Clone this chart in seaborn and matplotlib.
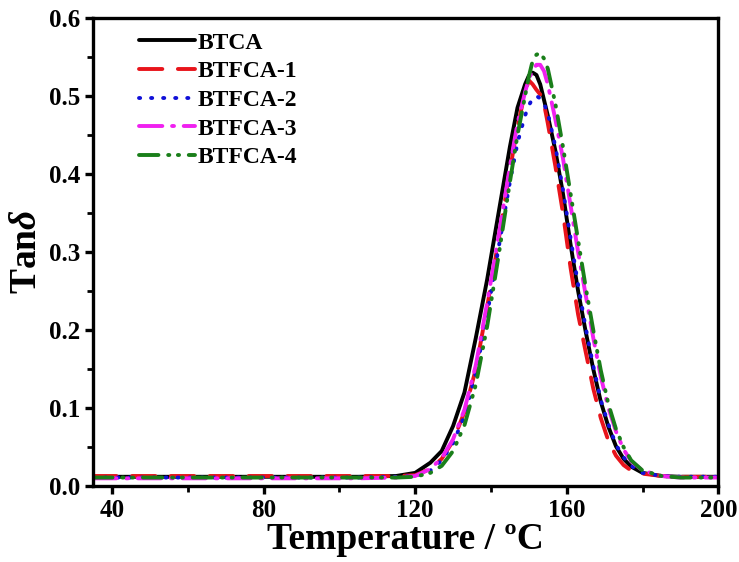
import pandas as pd
import matplotlib
matplotlib.use("Agg")
import matplotlib.pyplot as plt
import seaborn as sns
from matplotlib.ticker import MultipleLocator

temperature = [35, 50, 70, 90, 105, 115, 120, 124, 127, 130, 133, 136, 139, 142, 145, 147, 149, 150,
               151, 152, 153, 154, 155, 157, 159, 161, 163, 165, 167, 169, 171, 173, 175, 177, 180,
               185, 190, 200]

btca = [0.012, 0.012, 0.012, 0.012, 0.012, 0.013, 0.017, 0.030, 0.045, 0.077, 0.120, 0.190, 0.265,
        0.350, 0.435, 0.485, 0.515, 0.526, 0.530, 0.527, 0.515, 0.495, 0.475, 0.430, 0.375, 0.310,
        0.250, 0.198, 0.150, 0.108, 0.076, 0.051, 0.035, 0.025, 0.017, 0.013, 0.012, 0.012]
btfca1 = [0.013, 0.013, 0.013, 0.013, 0.013, 0.013, 0.014, 0.022, 0.035, 0.058, 0.095, 0.150, 0.230,
          0.315, 0.405, 0.460, 0.505, 0.520, 0.515, 0.508, 0.502, 0.490, 0.465, 0.410, 0.350, 0.280,
          0.220, 0.172, 0.125, 0.087, 0.058, 0.039, 0.027, 0.020, 0.016, 0.013, 0.012, 0.012]
btfca2 = [0.011, 0.011, 0.011, 0.011, 0.011, 0.012, 0.013, 0.020, 0.033, 0.055, 0.090, 0.145, 0.220,
          0.305, 0.390, 0.440, 0.475, 0.488, 0.497, 0.500, 0.497, 0.490, 0.478, 0.435, 0.380, 0.318,
          0.258, 0.203, 0.154, 0.110, 0.079, 0.053, 0.037, 0.026, 0.017, 0.013, 0.012, 0.012]
btfca3 = [0.010, 0.010, 0.010, 0.010, 0.010, 0.011, 0.013, 0.022, 0.036, 0.060, 0.098, 0.155, 0.235,
          0.320, 0.410, 0.465, 0.505, 0.522, 0.533, 0.540, 0.540, 0.532, 0.515, 0.470, 0.420, 0.360,
          0.300, 0.245, 0.190, 0.140, 0.100, 0.070, 0.047, 0.032, 0.020, 0.013, 0.011, 0.011]
btfca4 = [0.011, 0.011, 0.011, 0.011, 0.011, 0.011, 0.012, 0.017, 0.026, 0.045, 0.078, 0.130, 0.205,
          0.295, 0.390, 0.450, 0.500, 0.525, 0.545, 0.553, 0.555, 0.548, 0.535, 0.490, 0.435, 0.375,
          0.315, 0.255, 0.200, 0.148, 0.105, 0.073, 0.050, 0.033, 0.020, 0.013, 0.011, 0.011]

names = ["BTCA", "BTFCA-1", "BTFCA-2", "BTFCA-3", "BTFCA-4"]
series = [btca, btfca1, btfca2, btfca3, btfca4]

rows = []
for name, vals in zip(names, series):
    for t, v in zip(temperature, vals):
        rows.append({"T": t, "tan": v, "Sample": name})
df = pd.DataFrame(rows)

sns.set_theme(style="ticks")
plt.rcParams["font.family"] = ["Liberation Serif", "DejaVu Serif"]
plt.rcParams["font.weight"] = "bold"
plt.rcParams["text.color"] = "black"
plt.rcParams["axes.labelcolor"] = "black"
plt.rcParams["mathtext.fontset"] = "custom"
plt.rcParams["mathtext.it"] = "Liberation Serif:italic"
plt.rcParams["mathtext.rm"] = "Liberation Serif"

colors = {"BTCA": "black", "BTFCA-1": "#e8141b", "BTFCA-2": "#1010d8",
          "BTFCA-3": "#f020f0", "BTFCA-4": "#1a7f1a"}
dashes = {"BTCA": "", "BTFCA-1": (6, 4), "BTFCA-2": (0.3, 2.8),
          "BTFCA-3": (6, 2.5, 0.5, 2.5), "BTFCA-4": (5, 2.5, 0.3, 2.2, 0.3, 2.5)}

fig, ax = plt.subplots(figsize=(7.39, 5.62), dpi=100)
fig.subplots_adjust(left=0.126, right=0.972, bottom=0.135, top=0.968)

sns.lineplot(data=df, x="T", y="tan", hue="Sample", style="Sample", palette=colors,
             dashes=dashes, linewidth=2.8, dash_capstyle="round", ax=ax, sort=True)

ax.set_xlim(35, 200)
ax.set_ylim(0, 0.6)
ax.xaxis.set_minor_locator(MultipleLocator(20))
ax.yaxis.set_minor_locator(MultipleLocator(0.05))
ax.set_xticks([40, 80, 120, 160, 200])
ax.set_yticks([0.0, 0.1, 0.2, 0.3, 0.4, 0.5, 0.6])
ax.set_yticklabels(["0.0", "0.1", "0.2", "0.3", "0.4", "0.5", "0.6"])

for s in ax.spines.values():
    s.set_linewidth(2.4)
    s.set_color("black")
ax.tick_params(which="major", direction="out", length=6, width=2.4, labelsize=18, colors="black", pad=3)
ax.tick_params(which="minor", direction="out", length=4, width=2.0, colors="black")
ax.tick_params(axis="both", which="both", top=False, right=False)

ax.set_xlabel("Temperature / ºC", fontsize=27, fontweight="bold", labelpad=0, color="black")
ax.set_ylabel(r"Tan$\it{\delta}$", fontsize=27, fontweight="bold", labelpad=4, color="black")

handles, labels = ax.get_legend_handles_labels()
ax.legend(handles, labels, loc="upper left", frameon=False, handlelength=2.4, handletextpad=0.1,
          labelspacing=0.3, prop={"family": "Liberation Serif", "weight": "bold", "size": 17},
          bbox_to_anchor=(0.05, 1.0), borderaxespad=0.2, labelcolor="black")

plt.savefig("out.png", dpi=100)
